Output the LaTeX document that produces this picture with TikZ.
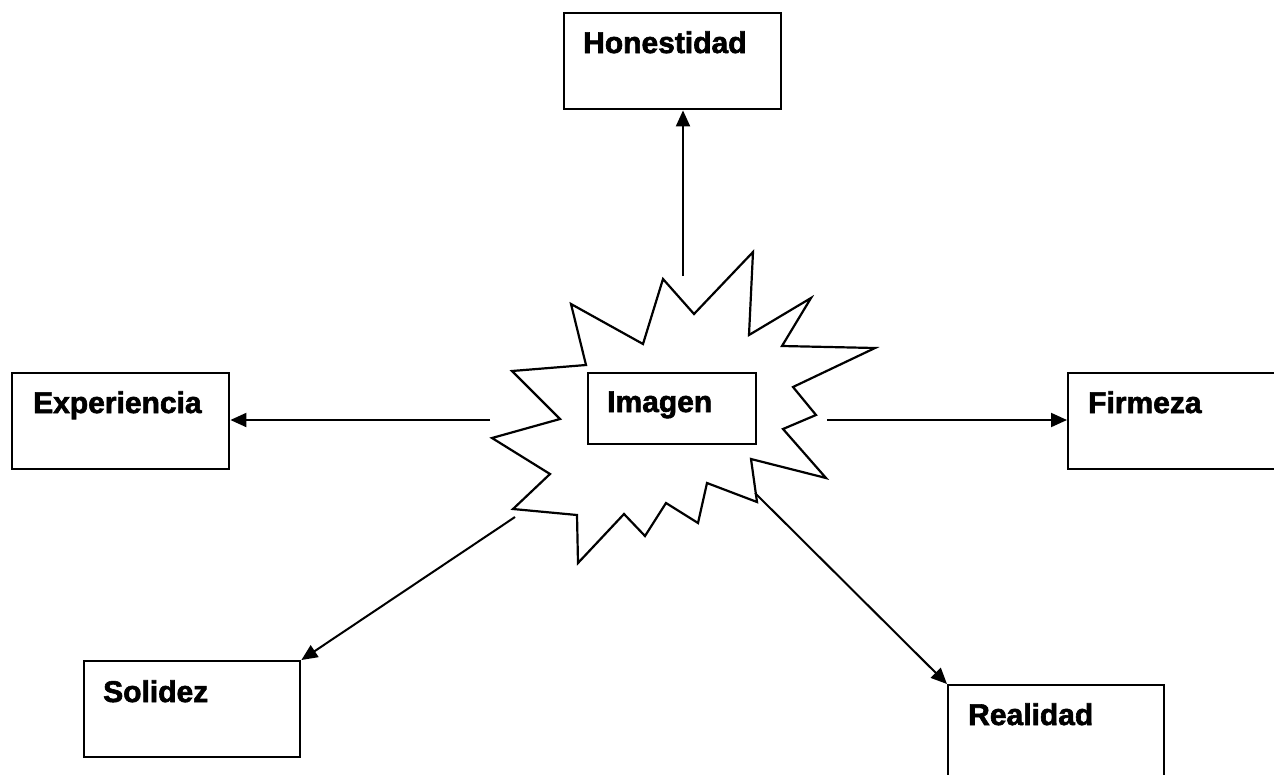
\documentclass[tikz,border=0pt]{standalone}
\usepackage{fontspec}
\setmainfont{Liberation Sans}[BoldFeatures={FakeBold=2}]
\usetikzlibrary{arrows.meta}
\begin{document}
\begin{tikzpicture}[x=1pt,y=-1pt,
  box/.style={draw,line width=2.4pt,fill=white,inner sep=0pt,anchor=north west},
  word/.style={anchor=base west,inner sep=0pt,font=\fontsize{30}{34}\selectfont\bfseries},
  link/.style={line width=2pt,-{Triangle[length=16pt,width=14pt]}},
  burst/.style={draw,line width=2.2pt,line join=miter,fill=white}]
\useasboundingbox (0,0) rectangle (1274,774);
\clip (0,0) rectangle (1274,774);

% central starburst
\draw[burst] (571,304) -- (643,344) -- (663,279) -- (694,314) -- (753,252)
  -- (749,335) -- (811,298) -- (782,346) -- (875,348) -- (793,387)
  -- (816,415) -- (783,429) -- (826,478) -- (751,459) -- (757,502)
  -- (707,483) -- (698,523) -- (666,503) -- (645,536) -- (624,514)
  -- (578,563) -- (577,515) -- (513,509) -- (550,474) -- (492,438)
  -- (560,419) -- (512,371) -- (586,365) -- cycle;

% boxes
\node[box,minimum width=168pt,minimum height=71pt] (img) at (587,372) {};
\node[box,minimum width=217pt,minimum height=96pt] (hon) at (563,12) {};
\node[box,minimum width=217pt,minimum height=96pt] (exp) at (11,372) {};
\node[box,minimum width=240pt,minimum height=96pt] (fir) at (1067,372) {};
\node[box,minimum width=216pt,minimum height=96pt] (sol) at (83,660) {};
\node[box,minimum width=216pt,minimum height=120pt] (rea) at (947,684) {};

% labels
\node[word] (img-t) at (607,412) {Imagen};
\node[word] (hon-t) at (583,53) {Honestidad};
\node[word] (exp-t) at (33,413) {Experiencia};
\node[word] (fir-t) at (1088,413) {Firmeza};
\node[word] (sol-t) at (103,702) {Solidez};
\node[word] (rea-t) at (968,725) {Realidad};

% connector start points near the burst
\coordinate (sN) at (683,276);
\coordinate (sW) at (490,420);
\coordinate (sE) at (827,420);
\coordinate (sSW) at (515,517);
\coordinate (sSE) at (755,493);

\draw[link] (sN) -- (sN |- hon.south);
\draw[link] (sW) -- (sW -| exp.east);
\draw[link] (sE) -- (sE -| fir.west);
\draw[link] (sSW) -- (sol.north east);
\draw[link] (sSE) -- (rea.north west);
\end{tikzpicture}
\end{document}
